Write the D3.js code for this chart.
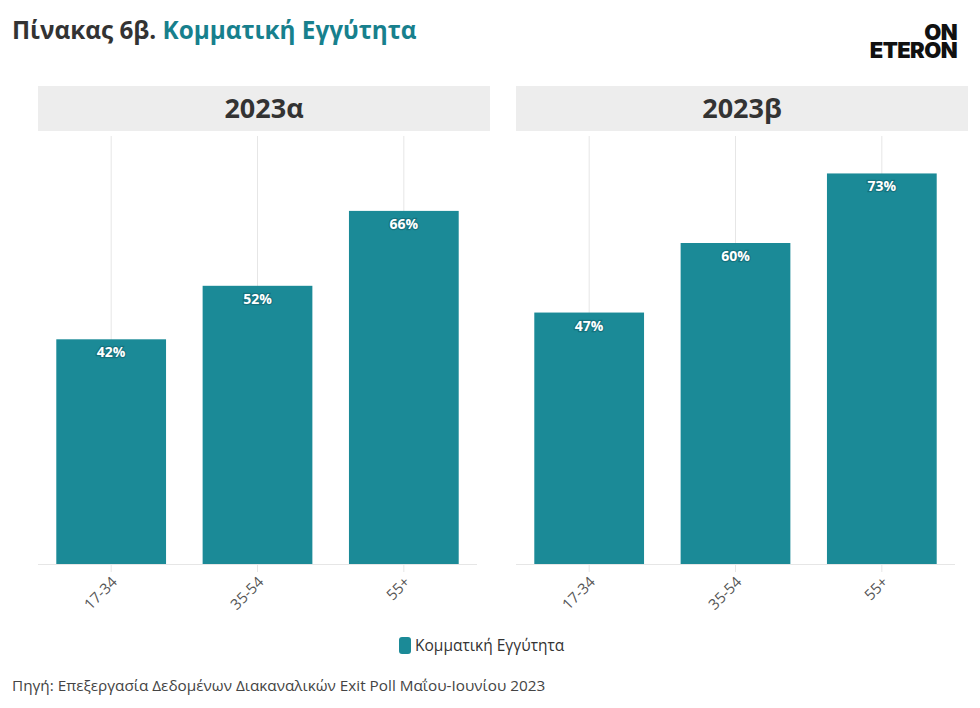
<!DOCTYPE html>
<html><head><meta charset="utf-8">
<script src="https://cdn.jsdelivr.net/npm/d3@7"></script>
<style>body{margin:0;background:#fff}svg{display:block;font-family:"Open Sans","Noto Sans",sans-serif}</style>
</head><body><svg id="c" width="980" height="708"></svg>
<script>
const categories = ["17-34","35-54","55+"];
const panels = ["2023α","2023β"];
const values2023a = [42,52,66];
const values2023b = [47,60,73];
const seriesName = "Κομματική Εγγύτητα";
const seriesValues = [values2023a, values2023b];

const svg = d3.select("#c");
const teal = "#1b8a97";

svg.append("text").attr("x",12).attr("y",39).attr("font-size",24.3).attr("font-weight",700)
  .attr("fill","#333").text("Πίνακας 6β. ")
  .append("tspan").attr("fill","#17808d").text(seriesName);

const logo = svg.append("text").attr("font-family","Inter, 'DejaVu Sans', sans-serif").attr("font-weight",900)
  .attr("fill","#111").attr("text-anchor","end").attr("font-size",22).attr("letter-spacing",-0.6);
logo.append("tspan").attr("x",957).attr("y",40).text("ON");
logo.append("tspan").attr("x",957).attr("y",58).text("ETERON");

const y = d3.scaleLinear().domain([0,80]).range([564,136]);
const panelX = [38,516];
panels.forEach((p,i)=>{
  const x0 = panelX[i];
  const g = svg.append("g");
  g.append("rect").attr("x",x0).attr("y",86).attr("width",452).attr("height",45).attr("fill","#ededed");
  g.append("text").attr("x",x0+226).attr("y",118).attr("text-anchor","middle").attr("font-size",27)
    .attr("font-weight",700).attr("fill","#333").text(p);
  const x = d3.scaleBand().domain(categories).range([x0,x0+439]).paddingInner(0.25).paddingOuter(0.125);
  g.selectAll("line.v").data(categories).join("line")
    .attr("x1",d=>x(d)+x.bandwidth()/2).attr("x2",d=>x(d)+x.bandwidth()/2)
    .attr("y1",136).attr("y2",572).attr("stroke","#e6e6e6").attr("stroke-width",1);
  g.append("line").attr("x1",x0).attr("x2",x0+439).attr("y1",564.5).attr("y2",564.5).attr("stroke","#e6e6e6");
  g.selectAll("rect.bar").data(seriesValues[i]).join("rect")
    .attr("x",(d,j)=>x(categories[j])).attr("width",x.bandwidth())
    .attr("y",d=>y(d)).attr("height",d=>y(0)-y(d)).attr("fill",teal);
  g.selectAll("text.lab").data(seriesValues[i]).join("text")
    .attr("x",(d,j)=>x(categories[j])+x.bandwidth()/2).attr("y",d=>y(d)+18)
    .attr("text-anchor","middle").attr("font-size",14).attr("font-weight",700).attr("fill","#fff")
    .attr("stroke","#0e5560").attr("stroke-width",2.5).attr("stroke-opacity",0.45).attr("paint-order","stroke")
    .text(d=>d+"%");
  g.selectAll("text.tick").data(categories).join("text")
    .attr("transform",d=>`translate(${x(d)+x.bandwidth()/2+7},${583}) rotate(-45)`)
    .attr("text-anchor","end").attr("font-size",15).attr("fill","#555").text(d=>d);
});

const lg = svg.append("g");
lg.append("rect").attr("x",399).attr("y",637).attr("width",12).attr("height",17).attr("rx",3).attr("fill",teal);
lg.append("text").attr("x",415).attr("y",651).attr("font-size",15.5).attr("fill","#333").text(seriesName);

svg.append("text").attr("x",12).attr("y",691).attr("font-size",15.3).attr("fill","#444")
  .text("Πηγή: Επεξεργασία Δεδομένων Διακαναλικών Exit Poll Μαΐου-Ιουνίου 2023");
</script></body></html>
